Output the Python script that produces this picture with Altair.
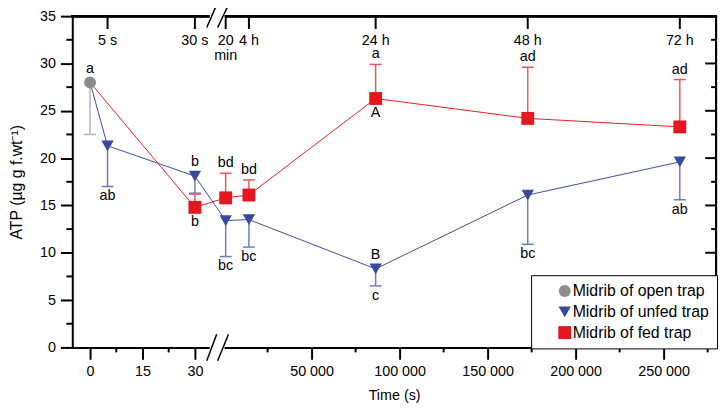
import altair as alt
import pandas as pd

# ---------------- data ----------------
series_names = ["Midrib of open trap", "Midrib of unfed trap", "Midrib of fed trap"]

open_time = [0]
open_atp = [28.0]
open_low = [22.5]

unfed_time = [5, 30, 1200, 14400, 86400, 172800, 259200]
unfed_atp = [21.3, 18.1, 13.4, 13.5, 8.3, 16.1, 19.6]
unfed_low = [17.0, 16.3, 9.6, 10.6, 6.5, 10.9, 15.6]

fed_time = [30, 1200, 14400, 86400, 172800, 259200]
fed_atp = [14.8, 15.8, 16.1, 26.3, 24.2, 23.3]
fed_high = [16.2, 18.4, 17.7, 29.9, 29.6, 28.3]

label_time = [0, 5, 30, 1200, 14400, 86400, 86400, 172800, 259200,
              30, 1200, 14400, 86400, 86400, 172800, 259200]
label_text = ["a", "ab", "b", "bc", "bc", "B", "c", "bc", "ab",
              "b", "bd", "bd", "a", "A", "ad", "ad"]
label_anchor = [28.0, 17.0, 18.1, 9.6, 10.6, 8.3, 6.5, 10.9, 15.6,
                14.8, 18.4, 17.7, 29.9, 26.3, 29.6, 28.3]
label_side = ["above_mk", "below_err", "above_mk", "below_err", "below_err", "above_mk",
              "below_err", "below_err", "below_err",
              "below_mk", "above_err", "above_err", "above_err", "below_mk", "above_err", "above_err"]

top_tick_time = [5, 30, 1200, 14400, 86400, 172800, 259200]
top_tick_label = ["5 s", "30 s", "20\nmin", "4 h", "24 h", "48 h", "72 h"]

x_major = [0, 15, 30, 50000, 100000, 150000, 200000, 250000]
x_minor = [7.5, 22.5, 25000, 75000, 125000, 175000, 225000, 275000]
y_major = [0, 5, 10, 15, 20, 25, 30, 35]
y_minor = [2.5, 7.5, 12.5, 17.5, 22.5, 27.5, 32.5]

# ---------------- broken time axis ----------------
SPLIT = 30
LEFT0, LEFT_K = 18.0, 106.0 / 30.0
RIGHT0, RIGHT_K = 153.0, 89.0 / 50000.0
X_MAX = 651.0
BREAK_U = 147.0


def u(t):
    return LEFT0 + t * LEFT_K if t <= SPLIT else RIGHT0 + t * RIGHT_K


GRAY, BLUE, RED = "#8c8c8c", "#3a489e", "#e5161d"
GRAY_ERR, BLUE_ERR, RED_ERR = "#b3b3b3", "#6f7bc2", "#f0555b"
BLUE_LINE, RED_LINE = "#3d4ca3", "#ee1c25"

xscale = alt.Scale(domain=[0, X_MAX], nice=False, zero=False)
yscale = alt.Scale(domain=[0, 35], nice=False, zero=True)

label_expr = (
    f"datum.value <= {u(SPLIT) + 1} ? format((datum.value - {LEFT0}) / {LEFT_K}, 'd') : "
    f"replace(format((datum.value - {RIGHT0}) / {RIGHT_K}, ',d'), ',', ' ')"
)

x_axis = alt.Axis(values=[u(v) for v in x_major], labelExpr=label_expr, tickSize=12, tickWidth=2,
                  tickColor="black", domain=True, domainWidth=2, domainColor="black",
                  domainCap="square", grid=False, labelFontSize=14.5, labelPadding=5,
                  labelColor="black", labelFlush=False, labelOverlap=False,
                  title="Time (s)", titleFontSize=14.5, titleFontWeight="normal",
                  titleColor="black", titlePadding=11)
y_axis = alt.Axis(values=y_major, format="d", tickSize=12, tickWidth=2, tickColor="black",
                  domain=True, domainWidth=2, domainColor="black", domainCap="square",
                  grid=False, labelFontSize=14.5, labelPadding=5, labelColor="black",
                  title="ATP (µg g f.wt⁻¹)", titleFontSize=16, titleFontWeight="normal",
                  titleColor="black", titlePadding=15)


def X(field="u"):
    return alt.X(f"{field}:Q", scale=xscale, axis=x_axis)


def Y(field):
    return alt.Y(f"{field}:Q", scale=yscale, axis=y_axis)


def XD(v):
    return alt.XDatum(v, type="quantitative", scale=xscale, axis=x_axis)


def YD(v):
    return alt.YDatum(v, type="quantitative", scale=yscale, axis=y_axis)


# ---------------- tables ----------------
open_df = pd.DataFrame({"t": open_time, "atp": open_atp, "err": open_low})
unfed_df = pd.DataFrame({"t": unfed_time, "atp": unfed_atp, "err": unfed_low})
fed_df = pd.DataFrame({"t": fed_time, "atp": fed_atp, "err": fed_high})
for d in (open_df, unfed_df, fed_df):
    d["u"] = [u(t) for t in d["t"]]

blue_line_df = pd.concat([open_df, unfed_df], ignore_index=True)
red_line_df = pd.concat([open_df, fed_df], ignore_index=True)

pts_df = pd.concat([
    open_df.assign(series=series_names[0]),
    unfed_df.assign(series=series_names[1]),
    fed_df.assign(series=series_names[2]),
], ignore_index=True)

lab_df = pd.DataFrame({"t": label_time, "text": label_text, "anchor": label_anchor, "side": label_side})
lab_df["u"] = [u(t) for t in lab_df["t"]]

top_df = pd.DataFrame({"t": top_tick_time, "label": top_tick_label})
top_df["u"] = [u(t) for t in top_df["t"]]

xminor_df = pd.DataFrame({"t": x_minor})
xminor_df["u"] = [u(t) for t in xminor_df["t"]]
ymajor_df = pd.DataFrame({"v": y_major})
yminor_df = pd.DataFrame({"v": y_minor})

break_rect_df = pd.DataFrame({"u1": [BREAK_U - 8, BREAK_U - 8], "u2": [BREAK_U + 7, BREAK_U + 7],
                              "y1": [-0.3, 34.7], "y2": [0.3, 35.3]})
break_line_df = pd.DataFrame({
    "u1": [BREAK_U - 11, BREAK_U, BREAK_U - 11, BREAK_U],
    "u2": [BREAK_U - 1, BREAK_U + 11, BREAK_U - 1, BREAK_U + 11],
    "y1": [-1.4, -1.4, 33.8, 33.8],
    "y2": [1.4, 1.4, 36.2, 36.2],
})

# ---------------- layers ----------------
layers = []

layers.append(alt.Chart(blue_line_df).mark_line(color=BLUE_LINE, strokeWidth=1).encode(
    x=X(), y=Y("atp")))
layers.append(alt.Chart(red_line_df).mark_line(color=RED_LINE, strokeWidth=1).encode(
    x=X(), y=Y("atp")))

for d, c in ((open_df, GRAY_ERR), (unfed_df, BLUE_ERR), (fed_df, RED_ERR)):
    layers.append(alt.Chart(d).mark_rule(color=c, strokeWidth=1.5).encode(
        x=X(), y=Y("atp"), y2="err:Q"))
    layers.append(alt.Chart(d).mark_tick(orient="horizontal", size=12, thickness=1.5,
                                         color=c, opacity=1).encode(x=X(), y=Y("err")))

legend = alt.Legend(title=None, orient="none", legendX=464, legendY=262, padding=8, rowPadding=5,
                    symbolOffset=18, labelOffset=0, labelFontSize=16, labelColor="black",
                    strokeColor="black", fillColor="white", symbolSize=130,
                    symbolStrokeWidth=0, labelLimit=400, cornerRadius=0)

layers.append(alt.Chart(pts_df).mark_point(filled=True, opacity=1, strokeWidth=0).encode(
    x=X(), y=Y("atp"),
    color=alt.Color("series:N", scale=alt.Scale(domain=series_names, range=[GRAY, BLUE, RED]),
                    legend=legend),
    shape=alt.Shape("series:N", scale=alt.Scale(domain=series_names,
                                                range=["circle", "triangle-down", "square"]),
                    legend=legend),
    size=alt.Size("series:N", scale=alt.Scale(domain=series_names, range=[144, 170, 121]),
                  legend=None)))

for side, dy in (("above_err", -10), ("below_err", 10), ("above_mk", -14), ("below_mk", 15)):
    layers.append(alt.Chart(lab_df).transform_filter(alt.datum.side == side).mark_text(
        fontSize=14.5, dy=dy, baseline="middle", align="center", color="black").encode(
        x=X(), y=Y("anchor"), text="text:N"))

# frame top / right
layers.append(alt.Chart(top_df).mark_rule(color="black", strokeWidth=2, strokeCap="square").encode(
    x=XD(0), x2=alt.datum(X_MAX), y=YD(35)))
layers.append(alt.Chart(top_df).mark_rule(color="black", strokeWidth=2, strokeCap="square").encode(
    x=XD(X_MAX), y=YD(0), y2=alt.datum(35)))

# top time ticks and labels
layers.append(alt.Chart(top_df).mark_tick(orient="vertical", size=13, thickness=2, yOffset=6.5,
                                          color="black", opacity=1).encode(
    x=X(), y=YD(35)))
layers.append(alt.Chart(top_df).mark_text(fontSize=14.5, dy=29, baseline="alphabetic", align="center",
                                          lineBreak="\n", lineHeight=15, color="black").encode(
    x=X(), y=YD(35), text="label:N"))

# minor ticks bottom / left, ticks right
layers.append(alt.Chart(xminor_df).mark_tick(orient="vertical", size=5, thickness=2, yOffset=2.5,
                                             color="black", opacity=1).encode(
    x=X(), y=YD(0)))
layers.append(alt.Chart(yminor_df).mark_tick(orient="horizontal", size=6, thickness=2, xOffset=-3,
                                             color="black", opacity=1).encode(
    x=XD(0), y=Y("v")))
layers.append(alt.Chart(ymajor_df).mark_tick(orient="horizontal", size=11, thickness=2, xOffset=-5.5,
                                             color="black", opacity=1).encode(
    x=XD(X_MAX), y=Y("v")))
layers.append(alt.Chart(yminor_df).mark_tick(orient="horizontal", size=5, thickness=2, xOffset=-2.5,
                                             color="black", opacity=1).encode(
    x=XD(X_MAX), y=Y("v")))

# axis break
layers.append(alt.Chart(break_rect_df).mark_rect(color="white", opacity=1).encode(
    x=X("u1"), x2="u2:Q", y=Y("y1"), y2="y2:Q"))
layers.append(alt.Chart(break_line_df).mark_rule(color="black", strokeWidth=1.5).encode(
    x=X("u1"), x2="u2:Q", y=Y("y1"), y2="y2:Q"))

chart = alt.layer(*layers).properties(
    width=X_MAX, height=335,
    autosize=alt.AutoSizeParams(type="none"),
    padding={"left": 65, "top": 6, "right": 3, "bottom": 56},
).configure_view(stroke=None).configure(font="Liberation Sans")

chart.save("out.html", embed_options={"renderer": "svg", "actions": False})
